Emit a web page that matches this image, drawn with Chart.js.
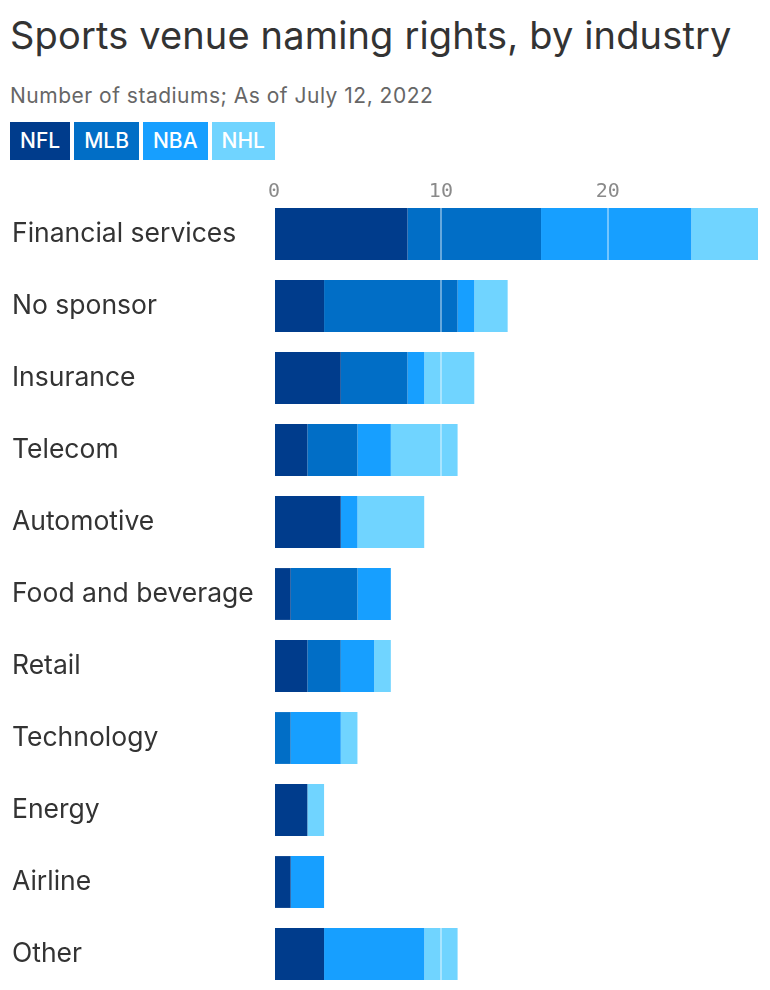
<!DOCTYPE html>
<html>
<head>
<meta charset="utf-8">
<script src="https://cdn.jsdelivr.net/npm/chart.js@4"></script>
<style>
  body { margin:0; background:#fff; font-family: Inter, "Noto Sans", sans-serif; }
  #wrap { position:relative; width:770px; height:990px; }
  h1 { position:absolute; left:10px; top:12px; margin:0; font-size:38px; font-weight:400; color:#333; letter-spacing:0.15px; white-space:nowrap; }
  .sub { position:absolute; left:10px; top:83px; font-size:21px; color:#666; letter-spacing:0.5px; }
  .legend { position:absolute; left:10px; top:122px; display:flex; gap:4px; }
  .legend span { display:block; height:38px; line-height:38px; padding:0 10px; color:#fff; font-size:21px; font-weight:500; }
  #box { position:absolute; left:0; top:170px; width:770px; height:820px; }
</style>
</head>
<body>
<div id="wrap">
  <h1>Sports venue naming rights, by industry</h1>
  <div class="sub">Number of stadiums; As of July 12, 2022</div>
  <div class="legend" id="legend"></div>
  <div id="box"><canvas id="chart"></canvas></div>
</div>
<script>
let categories=["Financial services","No sponsor","Insurance","Telecom","Automotive","Food and beverage","Retail","Technology","Energy","Airline","Other"];
let nfl=[8,3,4,2,4,1,2,0,2,1,3];
let mlb=[8,8,4,3,0,4,2,1,0,0,0];
let nba=[9,1,1,2,1,2,2,3,0,2,6];
let nhl=[4,2,3,4,4,0,1,1,1,0,2];
let leagues=["NFL","MLB","NBA","NHL"];
let colors=["#003c8c","#016ec6","#179fff","#70d4ff"];
let tickValues=[0,10,20];

// legend boxes
let lg=document.getElementById('legend');
leagues.forEach(function(name,i){
  let s=document.createElement('span');
  s.textContent=name;
  s.style.background=colors[i];
  lg.appendChild(s);
});

new Chart(document.getElementById('chart'),{
  type:'bar',
  data:{
    labels:categories,
    datasets:[nfl,mlb,nba,nhl].map(function(vals,i){
      return {label:leagues[i],data:vals,backgroundColor:colors[i],barPercentage:1,categoryPercentage:0.72};
    })
  },
  options:{
    indexAxis:'y',
    responsive:true,
    maintainAspectRatio:false,
    animation:false,
    layout:{padding:{left:12,right:12,top:0,bottom:0}},
    plugins:{legend:{display:false},tooltip:{enabled:false}},
    scales:{
      x:{
        position:'top',
        stacked:true,
        min:0,max:29,
        border:{display:false},
        grid:{color:'rgba(255,255,255,0.4)',lineWidth:2,drawTicks:false,z:1},
        ticks:{stepSize:10,padding:-6,color:'#8a8a8a',font:{family:'"DejaVu Sans Mono", monospace',size:20}},
        afterBuildTicks:function(s){ s.ticks=tickValues.map(function(v){return {value:v};}); },
        afterFit:function(s){ s.height=28; s.paddingLeft=0; s.paddingRight=0; }
      },
      y:{
        stacked:true,
        border:{display:false},
        grid:{display:false},
        ticks:{crossAlign:'far',color:'#333',font:{family:'Inter, "Noto Sans", sans-serif',size:26.5}},
        afterFit:function(s){ s.width=262; s.paddingTop=0; s.paddingBottom=0; }
      }
    }
  }
});
</script>
</body>
</html>
